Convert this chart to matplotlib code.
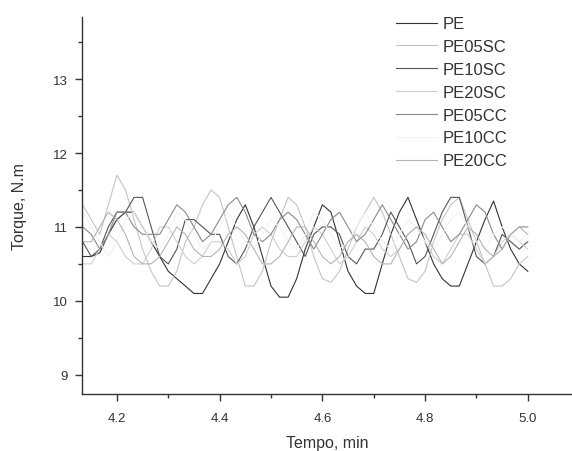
import numpy as np
import matplotlib
matplotlib.use("Agg")
import matplotlib.pyplot as plt
from matplotlib.ticker import MultipleLocator

plt.rcParams['font.family'] = ['Liberation Sans', 'DejaVu Sans']

# === données (1 point par seconde) ===
tempo = 4.1333 + np.arange(53) / 60.0

pe = [10.6, 10.6, 10.65, 10.9, 11.1, 11.2, 11.2, 11.0, 10.8, 10.6, 10.4, 10.3, 10.2, 10.1,
      10.1, 10.3, 10.5, 10.8, 11.1, 11.3, 11.0, 10.6, 10.2, 10.05, 10.05, 10.3, 10.7, 11.0,
      11.3, 11.2, 10.8, 10.4, 10.2, 10.1, 10.1, 10.5, 10.9, 11.2, 11.4, 11.1, 10.8, 10.5,
      10.3, 10.2, 10.2, 10.5, 10.8, 11.1, 11.35, 11.0, 10.7, 10.5, 10.4]
pe05sc = [11.3, 11.1, 10.9, 11.3, 11.7, 11.5, 11.1, 10.7, 10.4, 10.2, 10.2, 10.4, 10.8, 11.0,
          11.3, 11.5, 11.4, 11.0, 10.6, 10.2, 10.2, 10.4, 10.8, 11.1, 11.4, 11.3, 11.0, 10.6,
          10.3, 10.25, 10.4, 10.7, 11.0, 11.2, 11.4, 11.2, 10.9, 10.6, 10.3, 10.25, 10.4, 10.8,
          11.1, 11.3, 11.4, 11.1, 10.8, 10.5, 10.2, 10.2, 10.3, 10.5, 10.6]
pe10sc = [10.8, 10.6, 10.7, 11.0, 11.2, 11.2, 11.4, 11.4, 11.0, 10.6, 10.5, 10.7, 11.1, 11.1,
          11.0, 10.9, 10.9, 10.6, 10.5, 10.7, 11.0, 11.2, 11.4, 11.2, 11.0, 10.8, 10.6, 10.9,
          11.0, 11.0, 10.9, 10.6, 10.5, 10.7, 10.7, 10.9, 11.2, 11.0, 10.8, 10.5, 10.6, 10.9,
          11.2, 11.4, 11.4, 11.0, 10.6, 10.5, 10.6, 10.9, 10.8, 10.7, 10.8]
pe20sc = [10.5, 10.5, 10.7, 10.9, 10.8, 10.6, 10.5, 10.5, 10.7, 11.0, 11.0, 10.8, 10.6, 10.5,
          10.6, 10.8, 10.8, 10.7, 10.5, 10.6, 10.9, 11.0, 10.9, 10.7, 10.6, 10.6, 10.8, 11.0,
          10.9, 10.7, 10.5, 10.6, 10.8, 11.0, 10.9, 10.7, 10.6, 10.7, 10.9, 11.0, 10.8, 10.6,
          10.5, 10.7, 10.9, 10.9, 10.7, 10.5, 10.6, 10.8, 10.9, 10.8, 10.7]
pe05cc = [11.0, 10.9, 10.7, 10.9, 11.2, 11.2, 11.0, 10.9, 10.9, 10.9, 11.1, 11.3, 11.2, 11.0,
          10.8, 10.9, 11.1, 11.3, 11.4, 11.2, 10.9, 10.8, 10.9, 11.1, 11.2, 11.1, 10.9, 10.7,
          10.9, 11.1, 11.2, 11.0, 10.8, 10.9, 11.1, 11.3, 11.1, 10.9, 10.7, 10.8, 11.1, 11.2,
          11.0, 10.8, 10.9, 11.1, 11.3, 11.2, 10.9, 10.7, 10.9, 11.0, 11.0]
pe10cc = [11.2, 11.0, 10.8, 10.6, 10.8, 11.1, 11.2, 11.0, 10.8, 10.7, 10.9, 11.2, 11.1, 10.9,
          10.7, 10.8, 11.0, 11.2, 11.0, 10.8, 10.7, 10.9, 11.1, 11.0, 10.8, 10.7, 10.9, 11.2,
          11.1, 10.9, 10.7, 10.8, 11.0, 11.2, 11.0, 10.8, 10.7, 10.9, 11.1, 11.0, 10.8, 10.7,
          10.9, 11.1, 11.2, 11.0, 10.8, 10.7, 10.9, 11.0, 10.9, 10.8, 10.9]
pe20cc = [10.8, 10.8, 11.0, 11.2, 11.1, 10.9, 10.6, 10.5, 10.5, 10.6, 10.8, 11.0, 10.9, 10.7,
          10.6, 10.6, 10.7, 10.9, 11.0, 10.9, 10.7, 10.5, 10.5, 10.6, 10.8, 11.0, 11.0, 10.8,
          10.6, 10.5, 10.6, 10.8, 10.9, 10.8, 10.6, 10.5, 10.5, 10.7, 10.9, 11.0, 10.9, 10.7,
          10.5, 10.6, 10.8, 11.0, 10.9, 10.7, 10.6, 10.7, 10.9, 11.0, 10.9]

noms = ["PE", "PE05SC", "PE10SC", "PE20SC", "PE05CC", "PE10CC", "PE20CC"]
series = [pe, pe05sc, pe10sc, pe20sc, pe05cc, pe10cc, pe20cc]
couleurs = ["#333333", "#c4c4c4", "#555555", "#cfcfcf", "#8a8a8a", "#f2f2f2", "#b4b4b4"]

fig = plt.figure(figsize=(5.72, 4.52), dpi=100)
ax = fig.add_axes([82 / 572, 1 - 395 / 452, 1 - 82 / 572, (395 - 18) / 452])

for nom, y, c in zip(noms, series, couleurs):
    ax.plot(tempo, y, color=c, lw=0.8, label=nom)

ax.set_xlim(4.132, 5.086)
ax.set_ylim(8.74, 13.84)
ax.xaxis.set_major_locator(MultipleLocator(0.2))
ax.xaxis.set_minor_locator(MultipleLocator(0.1))
ax.yaxis.set_major_locator(MultipleLocator(1))
ax.yaxis.set_minor_locator(MultipleLocator(0.5))
ax.xaxis.set_major_formatter(plt.FuncFormatter(lambda v, p: f"{v:.1f}"))
ax.yaxis.set_major_formatter(plt.FuncFormatter(lambda v, p: f"{v:.0f}"))

for s in ["top", "right"]:
    ax.spines[s].set_visible(False)
for s in ["left", "bottom"]:
    ax.spines[s].set_linewidth(1.0)
    ax.spines[s].set_color("#333333")

ax.tick_params(which="major", direction="out", length=5, width=1, labelsize=9.5,
               colors="#333333", pad=5)
ax.tick_params(axis="x", which="major", pad=8)
ax.tick_params(which="minor", direction="out", length=3, width=1, colors="#333333")

ax.set_xlabel("Tempo, min", fontsize=11.5, color="#333333", labelpad=8)
ax.set_ylabel("Torque, N.m", fontsize=11.5, color="#333333", labelpad=19)

ax.legend(loc="upper left", bbox_to_anchor=(388 / 572, 1 - 9 / 452),
          bbox_transform=fig.transFigure, frameon=False, fontsize=12,
          handlelength=2.45, handletextpad=0.3, labelspacing=0.47, borderpad=0,
          labelcolor="#333333")

fig.savefig("out.png", dpi=100)
